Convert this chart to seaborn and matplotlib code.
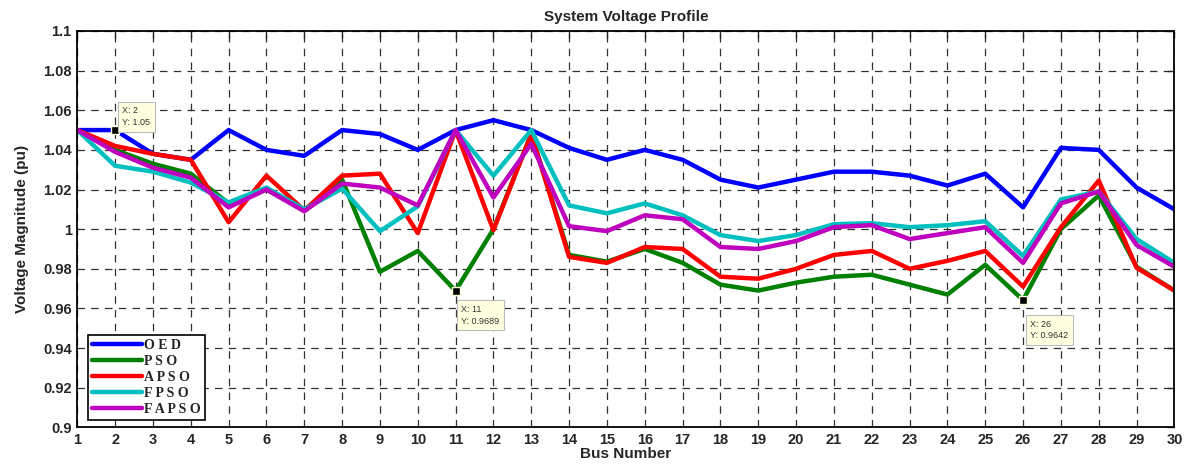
import matplotlib
matplotlib.use('Agg')
import matplotlib.pyplot as plt
import numpy as np
import pandas as pd
import seaborn as sns

bus = list(range(1, 31))

oed = [1.050, 1.050, 1.038, 1.035, 1.050, 1.040, 1.037, 1.050, 1.048, 1.040,
       1.050, 1.055, 1.050, 1.041, 1.035, 1.040, 1.035, 1.025, 1.021, 1.025,
       1.029, 1.029, 1.027, 1.022, 1.028, 1.011, 1.041, 1.040, 1.021, 1.010]
pso = [1.050, 1.040, 1.033, 1.028, 1.013, 1.020, 1.0095, 1.025, 0.9785, 0.989,
       0.9689, 1.000, 1.048, 0.987, 0.9836, 0.990, 0.983, 0.972, 0.969, 0.973,
       0.976, 0.977, 0.972, 0.967, 0.982, 0.9642, 1.000, 1.017, 0.981, 0.969]
apso = [1.050, 1.042, 1.038, 1.035, 1.0035, 1.027, 1.0095, 1.027, 1.028, 0.998,
        1.050, 0.9995, 1.048, 0.986, 0.983, 0.991, 0.990, 0.976, 0.975, 0.980,
        0.987, 0.989, 0.980, 0.984, 0.989, 0.971, 1.001, 1.0245, 0.9805, 0.969]
fpso = [1.050, 1.032, 1.029, 1.0235, 1.0135, 1.021, 1.010, 1.0205, 0.999, 1.0115,
        1.050, 1.027, 1.050, 1.012, 1.008, 1.013, 1.007, 0.997, 0.994, 0.997,
        1.0025, 1.003, 1.001, 1.002, 1.004, 0.9865, 1.015, 1.019, 0.995, 0.983]
fapso = [1.050, 1.039, 1.031, 1.026, 1.011, 1.020, 1.009, 1.023, 1.021, 1.012,
         1.050, 1.016, 1.043, 1.0015, 0.999, 1.007, 1.005, 0.991, 0.990, 0.994,
         1.001, 1.002, 0.995, 0.998, 1.001, 0.983, 1.013, 1.019, 0.992, 0.981]

methods = ['OED', 'PSO', 'APSO', 'FPSO', 'FAPSO']
colors = ['#0000ff', '#008000', '#ff0000', '#00bfbf', '#bf00bf']
legend_labels = ['O E D', 'P S O', 'A P S O', 'F P S O', 'F A P S O']

df = pd.DataFrame({'Bus': bus, 'OED': oed, 'PSO': pso, 'APSO': apso,
                   'FPSO': fpso, 'FAPSO': fapso})
long_df = df.melt(id_vars='Bus', var_name='Method', value_name='Voltage')

sns.set_style('white')
plt.rcParams['font.family'] = ['Liberation Sans', 'DejaVu Sans']
plt.rcParams['font.weight'] = 'bold'

fig = plt.figure(figsize=(11.87, 4.66), dpi=100)
ax = fig.add_axes([0.0651, 0.083, 0.9243, 0.8505])

sns.lineplot(data=long_df, x='Bus', y='Voltage', hue='Method', hue_order=methods,
             palette=colors, linewidth=3.2, ax=ax, legend=False)

ax.set_xlim(1, 30)
ax.set_ylim(0.9, 1.1)
ax.set_xticks(bus)
yt = np.round(np.arange(0.9, 1.1001, 0.02), 2)
ax.set_yticks(yt)
ax.set_yticklabels(['0.9', '0.92', '0.94', '0.96', '0.98', '1', '1.02', '1.04',
                    '1.06', '1.08', '1.1'])
ax.tick_params(direction='in', top=True, right=True, length=5, width=1,
               labelsize=10.5, pad=4)
for lab in ax.get_xticklabels() + ax.get_yticklabels():
    lab.set_fontweight('bold')
ax.grid(True, color='#303030', linestyle=(0, (6, 5)), linewidth=0.9)
for s in ax.spines.values():
    s.set_color('black')
    s.set_linewidth(1.3)

ax.set_title('System Voltage Profile', fontsize=11, fontweight='bold', pad=7)
ax.set_xlabel('Bus Number', fontsize=11, fontweight='bold', labelpad=0)
ax.set_ylabel('Voltage Magnitude (pu)', fontsize=11, fontweight='bold', labelpad=10)

handles = [plt.Line2D([], [], color=c, linewidth=3.2) for c in colors]
leg = ax.legend(handles, legend_labels, loc='lower left', bbox_to_anchor=(0.003, 0.0),
                handlelength=3.6, handletextpad=0.2, labelspacing=0.22,
                borderpad=0.3, fancybox=False, framealpha=1,
                prop={'family': 'Liberation Serif', 'weight': 'bold', 'size': 10})
leg.get_frame().set_edgecolor('black')
leg.get_frame().set_linewidth(1.2)

# data tips
tips = [(2, oed[1], 'X: 2\nY: 1.05', (5, 2)),
        (11, pso[10], 'X: 11\nY: 0.9689', (4, -25)),
        (26, pso[25], 'X: 26\nY: 0.9642', (5, -29))]
for x, y, txt, off in tips:
    ax.plot([x], [y], marker='s', markersize=6, color='black',
            markeredgecolor='#ffffe0', markeredgewidth=1, zorder=5)
    ax.annotate(txt, xy=(x, y), xytext=off, textcoords='offset points',
                fontsize=6.5, fontweight='normal', color='#333333', va='bottom', ha='left',
                linespacing=1.4,
                bbox=dict(boxstyle='square,pad=0.5', fc='#ffffe0', ec='#bbbbbb', lw=0.8),
                zorder=6)

fig.savefig('out.png', dpi=100)
